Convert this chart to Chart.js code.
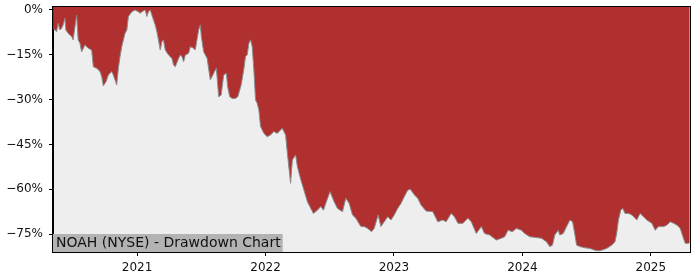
<!DOCTYPE html>
<html>
<head>
<meta charset="utf-8">
<script src="https://cdn.jsdelivr.net/npm/chart.js@4/dist/chart.umd.min.js"></script>
<style>
  body { margin: 0; background: #fff; }
  #wrap { width: 700px; height: 280px; }
</style>
</head>
<body>
<div id="wrap"><canvas id="chart" width="700" height="280"></canvas></div>
<script>
// dates as fractional years, drawdown in percent
const dates = [
  2020.346, 2020.373, 2020.385, 2020.398, 2020.412, 2020.424, 2020.438, 2020.445, 2020.463, 2020.490,
  2020.502, 2020.516, 2020.529, 2020.541, 2020.555, 2020.568, 2020.594, 2020.620, 2020.646, 2020.659,
  2020.685, 2020.711, 2020.724, 2020.737, 2020.758, 2020.776, 2020.802, 2020.815, 2020.828, 2020.841,
  2020.854, 2020.867, 2020.880, 2020.906, 2020.920, 2020.932, 2020.959, 2020.984, 2021.010, 2021.023,
  2021.037, 2021.063, 2021.076, 2021.088, 2021.102, 2021.115, 2021.127, 2021.141, 2021.154, 2021.166,
  2021.180, 2021.193, 2021.205, 2021.219, 2021.245, 2021.271, 2021.284, 2021.297, 2021.323, 2021.336,
  2021.349, 2021.362, 2021.375, 2021.401, 2021.414, 2021.440, 2021.453, 2021.466, 2021.479, 2021.492,
  2021.500, 2021.518, 2021.545, 2021.570, 2021.584, 2021.596, 2021.617, 2021.635, 2021.654, 2021.674,
  2021.695, 2021.705, 2021.721, 2021.740, 2021.766, 2021.784, 2021.799, 2021.810, 2021.830, 2021.844,
  2021.857, 2021.870, 2021.883, 2021.896, 2021.909, 2021.922, 2021.935, 2021.948, 2021.961, 2021.987,
  2022.013, 2022.039, 2022.065, 2022.091, 2022.130, 2022.156, 2022.170, 2022.195, 2022.209, 2022.234,
  2022.248, 2022.273, 2022.299, 2022.326, 2022.352, 2022.373, 2022.404, 2022.430, 2022.451, 2022.469,
  2022.502, 2022.534, 2022.560, 2022.599, 2022.625, 2022.651, 2022.677, 2022.703, 2022.742, 2022.768,
  2022.795, 2022.826, 2022.846, 2022.877, 2022.898, 2022.924, 2022.951, 2022.977, 2023.002, 2023.029,
  2023.055, 2023.080, 2023.107, 2023.127, 2023.159, 2023.185, 2023.211, 2023.250, 2023.302, 2023.341,
  2023.380, 2023.406, 2023.445, 2023.471, 2023.498, 2023.537, 2023.576, 2023.602, 2023.641, 2023.680,
  2023.705, 2023.745, 2023.797, 2023.836, 2023.862, 2023.888, 2023.922, 2023.953, 2023.992, 2024.018,
  2024.057, 2024.096, 2024.148, 2024.188, 2024.213, 2024.234, 2024.252, 2024.279, 2024.291, 2024.318,
  2024.344, 2024.370, 2024.391, 2024.409, 2024.422, 2024.448, 2024.487, 2024.526, 2024.565, 2024.591,
  2024.617, 2024.656, 2024.695, 2024.721, 2024.734, 2024.748, 2024.766, 2024.781, 2024.799, 2024.826,
  2024.852, 2024.891, 2024.916, 2024.943, 2024.969, 2025.008, 2025.034, 2025.060, 2025.099, 2025.125,
  2025.151, 2025.177, 2025.203, 2025.229, 2025.250, 2025.268, 2025.295, 2025.303
];

const drawdown = [
  -6.1, -7.3, -4.5, -6.7, -6.1, -5.0, -2.8, -6.7, -7.8, -8.9,
  -10.0, -5.6, -1.7, -10.0, -11.2, -14.0, -11.7, -12.8, -13.4, -19.0,
  -19.5, -20.6, -22.3, -25.4, -24.0, -21.8, -20.6, -21.8, -23.4, -25.1,
  -19.5, -15.6, -12.3, -7.8, -6.7, -2.2, -0.6, 0, -0.6, -1.1,
  -0.6, 0, -2.2, -0.6, 0, -1.7, -3.3, -5.0, -7.3, -10.0,
  -13.4, -10.6, -10.0, -13.4, -15.1, -16.2, -18.4, -19.0, -16.2, -15.1,
  -15.6, -17.3, -15.1, -14.5, -12.3, -12.8, -13.4, -10.0, -6.7, -5.0,
  -8.9, -14.0, -16.2, -23.4, -22.3, -21.2, -19.5, -29.0, -28.5, -21.8,
  -21.2, -25.7, -29.0, -29.6, -29.6, -29.0, -26.8, -25.1, -20.1, -15.6,
  -15.1, -11.2, -10.0, -12.3, -20.1, -30.1, -31.2, -33.5, -39.0, -41.3,
  -42.4, -41.8, -40.7, -41.3, -39.6, -41.8, -48.0, -58.0, -50.2, -48.5,
  -52.5, -56.6, -60.3, -64.2, -66.4, -68.1, -67.0, -65.8, -67.0, -64.7,
  -60.8, -64.2, -66.4, -67.5, -63.0, -64.7, -68.6, -69.7, -72.5, -72.5,
  -73.1, -74.2, -73.1, -68.6, -72.5, -70.9, -69.2, -70.3, -68.6, -66.4,
  -64.7, -62.5, -60.3, -60.0, -61.9, -63.0, -65.3, -67.3, -67.5, -70.9,
  -70.3, -70.9, -68.1, -69.2, -71.4, -71.4, -69.7, -70.9, -74.8, -72.5,
  -74.8, -75.3, -77.0, -76.4, -75.9, -73.7, -74.2, -73.1, -73.7, -74.8,
  -75.9, -76.1, -76.4, -77.6, -79.2, -78.7, -75.3, -73.7, -75.3, -74.8,
  -72.5, -70.3, -70.9, -75.3, -78.7, -79.2, -79.6, -79.8, -80.4, -80.6,
  -80.4, -79.8, -78.7, -77.6, -74.8, -70.3, -67.0, -66.4, -68.1, -68.1,
  -68.6, -70.3, -68.1, -69.2, -70.3, -71.4, -73.7, -72.5, -72.5, -72.0,
  -70.9, -71.4, -72.0, -73.1, -75.9, -78.1, -78.1, -77.6
];

const yearTicks = [2021, 2022, 2023, 2024, 2025];
const pctTicks = [0, -15, -30, -45, -60, -75];
const chartTitle = "NOAH (NYSE) - Drawdown Chart";

const points = dates.map((d, i) => ({ x: d, y: drawdown[i] }));

const tickFont = { family: "DejaVu Sans", size: 12 };

const plotDecor = {
  id: "plotDecor",
  beforeDraw(chart) {
    const { ctx, chartArea: a } = chart;
    ctx.save();
    ctx.fillStyle = "#eeeeee";
    ctx.fillRect(a.left, a.top, a.right - a.left, a.bottom - a.top);
    ctx.restore();
  },
  afterDatasetsDraw(chart) {
    const { ctx, chartArea: a } = chart;
    ctx.save();
    ctx.font = "14px 'DejaVu Sans'";
    const w = ctx.measureText(chartTitle).width;
    ctx.fillStyle = "#b3b3b3";
    ctx.fillRect(a.left, a.bottom - 18, w + 5, 18);
    ctx.fillStyle = "#111";
    ctx.textBaseline = "middle";
    ctx.fillText(chartTitle, a.left + 3, a.bottom - 9);
    ctx.restore();
  },
  afterDraw(chart) {
    const { ctx, chartArea: a } = chart;
    ctx.save();
    ctx.strokeStyle = "#000";
    ctx.lineWidth = 1;
    ctx.strokeRect(Math.round(a.left) - 0.5, Math.round(a.top) - 0.5,
      Math.round(a.right - a.left) + 1, Math.round(a.bottom - a.top) + 1);
    ctx.restore();
  }
};

new Chart(document.getElementById("chart"), {
  type: "line",
  data: {
    datasets: [{
      data: points,
      borderColor: "#8c8c8c",
      borderWidth: 1,
      backgroundColor: "#b03030",
      fill: "end",
      pointRadius: 0,
      tension: 0
    }]
  },
  options: {
    responsive: false,
    animation: false,
    layout: { padding: { top: 7, right: 10, left: 0, bottom: 0 } },
    plugins: {
      legend: { display: false },
      tooltip: { enabled: false }
    },
    scales: {
      x: {
        type: "linear",
        min: 2020.345,
        max: 2025.305,
        afterBuildTicks: (scale) => { scale.ticks = yearTicks.map(v => ({ value: v })); },
        afterFit: (scale) => { scale.height = 28; scale.paddingLeft = 0; scale.paddingRight = 0; },
        ticks: {
          font: tickFont,
          color: "#111",
          padding: 5,
          maxRotation: 0,
          callback: (v) => String(v)
        },
        grid: { display: true, drawOnChartArea: false, drawTicks: true, tickLength: 4, color: "#000" },
        border: { display: true, color: "#000" }
      },
      y: {
        min: -81,
        max: 1,
        afterBuildTicks: (scale) => { scale.ticks = pctTicks.map(v => ({ value: v })); },
        afterFit: (scale) => { scale.width = 53; scale.paddingTop = 0; scale.paddingBottom = 0; },
        ticks: {
          font: tickFont,
          color: "#111",
          padding: 6,
          callback: (v) => (v < 0 ? "\u2212" + Math.abs(v) : v) + "%"
        },
        grid: { display: true, drawOnChartArea: false, drawTicks: true, tickLength: 4, color: "#000" },
        border: { display: true, color: "#000" }
      }
    }
  },
  plugins: [plotDecor]
});
</script>
</body>
</html>
